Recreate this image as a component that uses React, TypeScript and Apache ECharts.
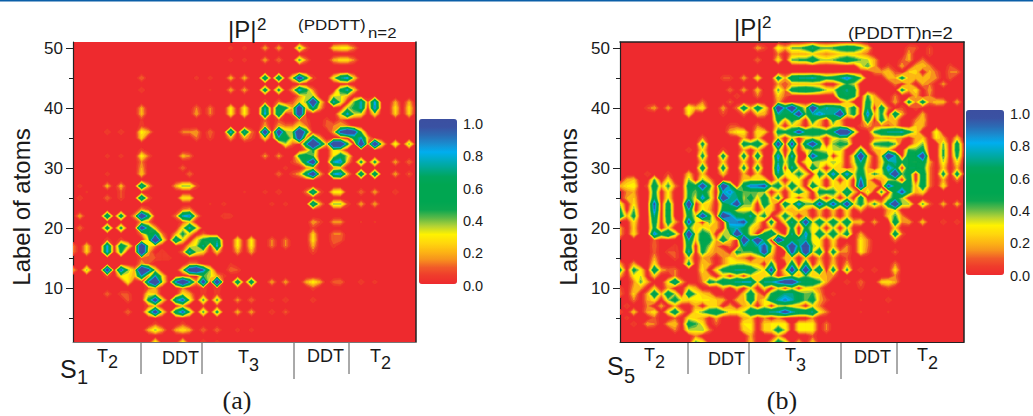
import React, { useEffect, useRef } from "react";
import * as echarts from "echarts";

// value rows: [y, x, v, x, v, ...]; every other atom pair is 0
const panelAUpper: number[][] = [
  [50, 24,.08,26,.08,29,.2,31,.2,34,.42,35,.12,39,.25,40,.3,41,.3,42,.15],
  [48, 24,.08,26,.08,29,.2,31,.15,34,.42,35,.15,39,.2,40,.28,41,.28,42,.15],
  [45, 11,.15,19,.08,21,.08,24,.22,26,.22,29,.55,31,.55,33,.3,34,.8,35,.45,36,.1,39,.3,40,.55,41,.62,42,.25],
  [43, 11,.1,21,.06,24,.2,26,.2,29,.5,31,.45,33,.2,34,.62,35,.45,36,.15,40,.45,41,.6,42,.25],
  [42, 34,.15,35,.35,36,.35,39,.3,40,.35,41,.2],
  [41, 29,.1,31,.15,33,.1,34,.25,35,.4,36,.92,37,.3,39,.6,40,.35,42,.4,43,.6,44,.1,45,.62,48,.2,50,.2],
  [40, 11,.2,19,.15,21,.15,24,.3,26,.3,29,.58,31,.55,32,.45,33,.2,34,.85,35,.2,36,.55,37,.2,41,.35,42,.45,43,.6,45,.65,48,.28,50,.28],
  [39, 11,.22,19,.2,21,.15,24,.3,26,.3,29,.62,31,.55,33,.12,34,.88,40,.3,41,.62,42,.35,43,.3,45,.3,48,.25,50,.25],
  [38, 11,.06,29,.12,31,.1,34,.14,35,.1,38,.1,40,.12],
  [37, 11,.08,29,.2,31,.2,32,.14,33,.15,34,.3,35,.15,38,.12,39,.15,40,.2,41,.15],
  [36, 6,.1,8,.1,11,.32,12,.2,17,.15,18,.15,19,.2,21,.15,24,.62,26,.58,27,.15,29,.85,31,.82,32,.4,33,.35,34,.97,35,.5,39,.2,40,.7,41,.9,42,.75,43,.4],
  [35, 11,.26,19,.14,21,.1,24,.2,26,.2,27,.1,29,.3,31,.55,32,.5,33,.3,34,.8,35,.1,36,.55,37,.2,42,.5,43,.6,44,.2],
  [34, 32,.35,33,.12,35,.55,36,.97,37,.6,38,.2,39,.92,40,.92,41,.45,43,.88,44,.1,45,.88,46,.3,48,.35,50,.4],
  [33, 11,.08,35,.15,36,.45,39,.3,40,.2],
  [32, 6,.08,8,.08,11,.32,12,.12,17,.22,18,.15,29,.18,31,.18,34,.45,35,.5,36,.4,39,.3,40,.5,41,.35],
  [31, 11,.15,33,.08,34,.2,35,.55,36,.82,39,.6,40,.65,41,.2,43,.45,45,.45,48,.2,50,.15],
  [30, 11,.2,17,.14,32,.08,35,.15,36,.2,39,.15,40,.2],
  [29, 6,.08,8,.05,11,.25,18,.15,31,.15,33,.1,34,.2,35,.5,36,.85,37,.2,39,.6,40,.65,41,.2,43,.55,45,.55,48,.2,50,.12],
  [27, 2,.08,6,.22,8,.22,11,.58,12,.2,16,.2,17,.38,18,.38,19,.1],
  [26, 3,.06,8,.1,26,.06,29,.08,31,.1,35,.15,36,.58,37,.12,39,.3,40,.32,43,.15,45,.2,48,.1],
  [25, 2,.1,6,.15,8,.1,11,.58,12,.12,17,.3,18,.28,22,.05],
  [24, 21,.06,23,.08,30,.08,32,.08,36,.58,37,.2,39,.38,40,.38,41,.1,43,.2,45,.2,48,.05,50,.05],
];
const panelALower: number[][] = [
  [23, 11,.2,12,.1,17,.15,18,.2],
  [22, 2,.2,6,.56,8,.5,10,.2,11,.88,12,.5,16,.15,17,.6,18,.65,19,.2,23,.1,24,.08],
  [21, 11,.2,12,.15,17,.1,18,.25,36,.2,37,.1,39,.18,40,.18,43,.06,45,.06],
  [20, 2,.15,6,.5,8,.45,11,.78,12,.5,13,.2,17,.3,18,.6,19,.35,36,.08],
  [19, 11,.15,12,.45,13,.55,14,.15,16,.2,17,.45,18,.25,20,.12,36,.25,39,.15,40,.15],
  [18, 6,.1,8,.1,12,.3,13,.92,14,.35,16,.58,17,.3,19,.3,20,.45,21,.55,22,.55,25,.3,27,.3,30,.15,32,.15,36,.28,39,.14,40,.12],
  [17, 1,.15,3,.25,6,.62,8,.52,9,.35,11,.92,12,.3,13,.15,18,.25,19,.35,20,.58,22,.62,25,.3,27,.3,30,.15,32,.15,36,.2,39,.08],
  [16, 1,.15,3,.25,6,.62,8,.45,11,.92,12,.2,14,.1,17,.15,18,.6,19,.35,20,.25,22,.25,25,.2,27,.2,36,.1],
  [15, 11,.12,12,.12,13,.1,14,.08,15,.08],
  [14, 3,.05,11,.2,12,.1,18,.15,19,.15,24,.06],
  [13, 1,.2,3,.38,6,.78,8,.68,9,.4,10,.2,11,.97,12,.7,13,.3,17,.3,18,.78,19,.92,20,.65,21,.35,24,.14,25,.1],
  [12, 6,.1,8,.3,9,.3,10,.2,11,.6,12,.1,13,.6,14,.3,20,.42,21,.35,22,.2,23,.08],
  [11, 9,.3,12,.62,13,.98,14,.35,16,.62,17,.92,18,.6,19,.2,20,.78,22,.88,25,.52,27,.52,30,.2,32,.2,35,.2,36,.32,37,.2,39,.12,40,.15,43,.1,45,.08],
  [10, 12,.1,13,.2,17,.15,20,.1,22,.1,25,.06,27,.06,36,.1],
  [9, 6,.14,8,.1,9,.1,12,.3,13,.25,17,.3,18,.2,20,.08,22,.08],
  [8, 9,.12,12,.45,13,.78,14,.3,16,.55,17,.68,18,.35,20,.42,22,.42,25,.18,27,.15,30,.08,32,.1,36,.1],
  [7, 12,.1,13,.2,17,.2,20,.06,22,.06],
  [6, 9,.15,12,.4,13,.78,14,.3,16,.5,17,.68,18,.4,20,.42,22,.45,25,.22,27,.2,30,.1,32,.12],
  [4, 13,.1,17,.1],
  [3, 12,.2,13,.38,14,.2,16,.2,17,.3,18,.2,20,.15,22,.15,25,.08,27,.08],
  [1, 13,.32,17,.3,20,.1,22,.08],
];
const panelBUpper: number[][] = [
  [50, 21,.2,22,.1,24,.35,25,.2,26,.4,27,.4,28,.5,29,.72,30,.45,31,.4,32,.45,33,.55,34,.62,35,.6,36,.45,37,.25,43,.12,44,.1,46,.1],
  [49, 24,.15,26,.2,27,.2,28,.2,29,.25,30,.2,31,.15,32,.2,33,.25,34,.25,35,.25,36,.2,37,.12,43,.2,46,.1],
  [48, 21,.15,24,.3,26,.4,27,.45,28,.45,29,.66,30,.4,31,.35,32,.4,33,.5,34,.62,35,.5,36,.4,37,.35,38,.2,42,.1,43,.2,45,.15],
  [47, 36,.3,37,.45,38,.2,40,.1,42,.2,44,.2,45,.25,46,.15,49,.1],
  [46, 38,.15,39,.18,40,.25,41,.1,43,.25,44,.28,46,.22,47,.12,49,.15,50,.15],
  [45, 16,.1,17,.1,19,.2,21,.3,24,.56,25,.2,26,.66,27,.7,28,.7,29,.76,30,.65,31,.5,32,.55,33,.7,34,.82,35,.65,36,.4,40,.2,41,.2,42,.52,43,.2,44,.2,45,.2,46,.2,47,.15,49,.12],
  [44, 24,.18,25,.1,26,.2,27,.2,28,.2,29,.2,30,.18,33,.2,34,.45,35,.35,41,.15,43,.2,45,.2,46,.14,48,.18],
  [43, 17,.15,19,.2,21,.25,24,.42,25,.15,26,.55,27,.62,28,.66,29,.6,30,.5,31,.35,32,.3,33,.62,34,.72,35,.55,42,.5,43,.2,44,.28,46,.2],
  [42, 18,.1,21,.14,24,.26,25,.12,33,.56,34,.66,35,.5,37,.45,38,.2,41,.15,44,.22,46,.15],
  [41, 13,.15,17,.12,24,.2,34,.25,37,.58,38,.2,39,.2,41,.2,43,.52,44,.15,45,.56,46,.15,47,.25,48,.22,50,.2],
  [40, 5,.1,6,.2,8,.2,11,.35,12,.2,13,.3,16,.2,18,.15,19,.62,20,.2,21,.62,22,.3,24,.96,25,.7,26,.96,27,.55,28,.3,29,.96,30,.6,31,.76,32,.72,33,.62,34,.3,35,.55,37,.66,39,.6,40,.15,42,.1,44,.1],
  [39, 11,.3,16,.1,19,.15,21,.25,22,.2,24,.72,25,.66,26,.62,27,.92,28,.4,29,.72,30,.82,31,.72,32,.7,33,.97,34,.3,35,.52,37,.82,38,.2,39,.48,41,.66,42,.2,45,.2],
  [38, 24,.56,25,.2,26,.52,27,.3,29,.56,30,.25,32,.52,33,.2,37,.62,39,.56,40,.2,41,.25,44,.15,45,.25],
  [37, 17,.1,18,.1,21,.15,24,.3,26,.3,27,.2,29,.3,30,.2,32,.3,33,.25,36,.1,37,.2,38,.1,39,.15,40,.12,41,.2,44,.25,45,.2],
  [36, 17,.2,18,.3,19,.3,21,.3,22,.25,24,.52,25,.5,26,.62,27,.88,28,.62,29,.62,30,.62,31,.52,32,.66,33,.97,34,.97,35,.4,38,.45,39,.62,40,.72,41,.72,42,.76,43,.5,44,.3,47,.35],
  [35, 13,.15,19,.2,21,.25,24,.3,26,.3,28,.25,29,.3,30,.25,32,.3,33,.35,34,.3,38,.15,39,.2,40,.15,41,.2,42,.15,44,.2,45,.25,47,.3,48,.2,50,.25],
  [34, 13,.52,19,.56,20,.45,21,.62,22,.3,24,.92,26,.88,28,.66,29,.92,30,.56,32,.4,33,.5,34,.45,38,.45,39,.5,40,.55,41,.4,44,.25,45,.4,48,.4,50,.56],
  [33, 11,.1,13,.3,16,.1,19,.2,21,.25,24,.42,26,.4,28,.3,29,.4,30,.35,31,.3,32,.35,33,.35,36,.5,38,.2,39,.25,40,.25,43,.45,44,.42,45,.55,48,.45,50,.58],
  [32, 13,.52,16,.56,19,.56,21,.62,24,.82,26,.78,29,.88,30,.6,31,.52,33,.3,35,.32,36,.96,37,.3,39,.3,40,.96,41,.76,43,.62,44,.62,45,.92,48,.45,50,.5],
  [31, 13,.25,16,.25,19,.25,21,.25,24,.72,25,.3,26,.56,28,.3,29,.35,30,.35,31,.3,32,.38,33,.3,35,.3,36,.72,37,.25,39,.25,40,.62,41,.76,42,.45,43,.5,44,.45,45,.62,46,.2,48,.35,50,.3],
  [30, 13,.62,16,.56,19,.52,21,.56,24,.82,26,.76,27,.3,29,.62,30,.3,32,.3,33,.25,35,.2,36,.56,37,.2,39,.3,40,.82,41,.66,43,.66,44,.66,45,.52,46,.15,48,.25,50,.2],
  [29, 5,.1,8,.1,11,.25,13,.25,16,.25,19,.2,21,.25,24,.72,25,.3,26,.3,27,.52,28,.3,30,.56,31,.3,32,.82,33,.3,34,.82,35,.3,36,.62,37,.25,38,.46,39,.3,40,.62,41,.97,42,.4,43,.56,45,.62,46,.15,48,.52,50,.56],
  [28, 2,.2,3,.25,6,.45,8,.3,11,.4,13,.4,14,.2,19,.25,20,.3,21,.3,22,.3,24,.3,26,.3,27,.3,29,.3,30,.3,32,.35,34,.35,36,.82,37,.25,39,.2,40,.3,41,.4,43,.62,45,.62,46,.15,48,.2,50,.15],
  [27, 1,.2,2,.3,3,.35,5,.1,6,.62,7,.2,8,.46,9,.15,11,.56,12,.5,13,.92,14,.5,16,.97,17,.62,19,.62,20,.82,21,.82,22,.86,23,.4,24,.56,25,.2,26,.62,27,.3,29,.62,30,.3,32,.3,33,.25,34,.3,36,.92,37,.2,38,.25,40,.86,41,.62,42,.62,43,.56,44,.2,45,.62,46,.15,48,.3],
  [26, 2,.15,3,.2,6,.55,8,.3,11,.5,12,.4,13,.6,14,.35,16,.75,17,.82,18,.62,19,.4,20,.4,21,.4,22,.35,24,.25,26,.3,27,.56,28,.3,30,.52,31,.52,32,.5,33,.25,34,.72,35,.25,37,.36,39,.46,41,.62,42,.86,43,.52,44,.2,45,.3],
  [25, 2,.2,3,.25,6,.62,8,.32,11,.52,12,.3,13,.82,14,.4,16,.97,17,.72,18,.72,19,.35,20,.56,21,.25,22,.62,23,.2,24,.52,26,.3,28,.25,30,.3,32,.3,34,.3,36,.62,40,.3,41,.55,42,.35],
];
const panelBLower: number[][] = [
  [24, 1,.35,3,.3,6,.85,8,.6,11,.97,13,.3,14,.25,16,.45,17,.72,18,.92,19,.4,20,.4,22,.62,23,.3,25,.62,26,.3,27,.82,28,.4,29,.4,30,.86,31,.5,32,.86,33,.45,34,.92,35,.3,36,.52,37,.2,38,.46,39,.2,40,.62,41,.98,42,.4,43,.36,45,.42,46,.12,48,.22,50,.22],
  [23, 1,.5,3,.42,6,.82,8,.62,11,.72,13,.35,14,.2,16,.55,17,.6,18,.3,19,.3,20,.3,22,.3,23,.25,25,.25,26,.2,27,.3,28,.2,30,.25,32,.25,34,.3,36,.2,40,.2,41,.3],
  [22, 1,.62,2,.2,3,.52,6,.72,8,.62,11,.56,12,.3,13,.92,14,.5,16,.97,17,.82,18,.62,19,.52,20,.76,21,.3,22,.52,24,.2,25,.56,26,.3,28,.25,30,.2,32,.2,34,.25,40,.25,41,.45,42,.15],
  [21, 3,.3,6,.62,8,.56,9,.2,11,.86,12,.3,14,.42,15,.2,17,.82,18,.82,19,.86,20,.5,21,.3,23,.56,25,.3,26,.72,27,.3,28,.92,29,.3,30,.62,31,.3,32,.62,33,.3,34,.66,35,.2,36,.25,38,.2,41,.66,42,.15,43,.2,45,.25,48,.1,50,.1],
  [20, 1,.2,3,.25,6,.52,8,.3,11,.46,12,.25,13,.35,14,.25,15,.2,17,.72,18,.76,19,.62,20,.3,21,.2,23,.25,26,.52,28,.52,29,.3,30,.35,32,.35,34,.35,41,.25],
  [19, 1,.2,3,.3,6,.82,7,.52,8,.72,9,.4,11,.97,12,.25,13,.56,14,.42,16,.36,17,.4,18,.97,19,.62,20,.3,22,.52,23,.72,24,.25,26,.72,28,.82,29,.25,30,.66,31,.3,32,.62,33,.25,34,.56,36,.2,41,.62,42,.12],
  [18, 1,.05,6,.12,11,.72,12,.2,13,.62,14,.52,15,.2,16,.62,17,.25,19,.97,20,.62,21,.97,22,.56,24,.97,25,.62,26,.62,27,.72,28,.72,29,.3,30,.3,32,.3,36,.3,37,.15,41,.15],
  [17, 6,.14,9,.08,11,.62,13,.56,14,.36,15,.15,17,.15,19,.72,20,.66,21,.72,22,.86,23,.4,25,.62,26,.92,27,.62,28,.97,29,.4,30,.3,32,.25,34,.15,36,.3,37,.15],
  [16, 6,.12,8,.1,9,.1,11,.76,13,.52,14,.25,15,.15,16,.2,18,.52,19,.4,20,.4,21,.52,22,.92,23,.3,26,.88,27,.3,28,.97,29,.3,30,.62,32,.56,33,.15,34,.15,36,.3,37,.12,41,.12],
  [15, 6,.2,9,.1,11,.3,13,.2,14,.15,16,.15,17,.3,18,.2,19,.15,21,.2,22,.25,23,.2,25,.2,26,.25,28,.25,30,.2,32,.2,34,.1],
  [14, 1,.2,3,.2,6,.3,11,.52,13,.25,14,.2,16,.15,17,.3,18,.35,19,.35,20,.25,21,.25,23,.52,26,.62,28,.62,30,.3,32,.25,34,.2,41,.15],
  [13, 1,.52,3,.52,4,.3,6,.66,7,.2,8,.12,9,.15,13,.3,15,.28,16,.52,17,.66,18,.72,19,.72,20,.66,21,.4,22,.3,23,.88,25,.3,26,.92,27,.3,28,.97,29,.3,30,.72,32,.56,34,.46,36,.1,38,.1,41,.28],
  [12, 1,.2,3,.3,4,.35,6,.25,9,.15,13,.2,14,.2,16,.25,18,.25,20,.3,21,.25,22,.25,23,.36,25,.2,26,.36,27,.2,28,.42,29,.25,30,.25,31,.2,32,.15,41,.15],
  [11, 3,.15,4,.42,5,.2,8,.3,9,.72,10,.2,13,.15,14,.52,15,.42,16,.62,17,.66,18,.72,19,.76,20,.76,21,.3,22,.72,23,.72,24,.82,25,.92,26,.92,27,.72,28,.66,29,.66,30,.46,31,.2,34,.1,36,.15,39,.25,40,.3,41,.2],
  [10, 1,.1,3,.2,4,.2,6,.25,8,.2,11,.3,12,.2,16,.2,18,.25,20,.3,22,.3,24,.3,26,.3,28,.3,29,.25,30,.15,36,.08,40,.08],
  [9, 1,.15,3,.26,5,.2,6,.66,7,.2,8,.62,9,.35,11,.66,12,.36,13,.25,14,.2,19,.25,20,.62,21,.2,23,.46,24,.62,25,.72,26,.72,27,.56,28,.4,29,.46,30,.2,32,.08],
  [8, 3,.15,5,.2,6,.3,8,.36,9,.56,10,.3,11,.25,12,.3,13,.3,14,.3,15,.25,16,.2,18,.2,19,.2,20,.66,21,.15,22,.3,23,.56,24,.76,25,.82,26,.76,27,.56,28,.4,29,.56,30,.2,31,.1,36,.06,40,.1],
  [7, 2,.1,5,.15,7,.2,9,.2,12,.2,14,.25,15,.25,17,.2,19,.2,20,.3,22,.3,24,.3,25,.3,26,.25,27,.2,29,.3,30,.15],
  [6, 1,.1,3,.25,5,.2,6,.3,8,.3,9,.62,10,.2,12,.3,13,.4,14,.56,15,.62,16,.46,17,.3,18,.3,19,.36,20,.66,21,.62,22,.66,23,.72,24,.76,25,.88,26,.76,27,.62,28,.62,29,.72,30,.3,31,.15,36,.06,40,.06],
  [5, 2,.08,6,.12,9,.12,11,.3,12,.25,13,.2,15,.2,19,.2,20,.25,22,.15,24,.15,29,.15],
  [4, 3,.1,5,.2,6,.15,8,.2,9,.25,11,.56,12,.45,13,.3,15,.12,19,.3,20,.3,22,.25,23,.3,24,.3,25,.3,27,.3,28,.3,29,.3,31,.15],
  [3, 9,.15,11,.35,12,.35,13,.4,14,.15,19,.25,20,.3,22,.25,23,.3,24,.56,25,.35,27,.3,28,.3,29,.3,31,.15],
  [2, 12,.15,20,.2,24,.2,29,.1],
  [1, 12,.42,13,.3,20,.25,23,.2,24,.56,25,.35,27,.2,29,.25],
];

const contourLevels = [.05,.1,.15,.2,.25,.3,.35,.4,.45,.5,.55,.6,.65,.7,.75,.8,.85,.9,.95];
const colorRamp = ["#ee2a2e","#ef3b2c","#f15a29","#f7941d","#fdb813","#ffd80d","#fff200","#b5d334","#5cb947","#0ca750","#00a651","#00a651","#00a651","#00a65d","#00a88f","#00abc0","#00aeef","#1a8ccf","#2b6bb5","#3a52a3","#3b4fa0"];
const yMajorTicks = [10, 20, 30, 40, 50];
const yMinorTicks = [5, 15, 25, 35, 45];
const colorbarLabels = ["1.0", "0.8", "0.6", "0.4", "0.2", "0.0"];
const yAxisTitle = "Label of atoms";
const segmentLabels = ["DDT", "DDT"];

function buildSquares(rows: number[][], knee: number, gain: number) {
  // the published contours saturate: strong readings are drawn with a steeper flank
  const saturate = (v: number) => (v < knee ? v : v + (v - knee) * gain);
  const grid = new Map<string, number>();
  for (const row of rows) {
    for (let i = 1; i < row.length; i += 2) grid.set(row[i] + "," + row[0], saturate(row[i + 1]));
  }
  const at = (x: number, y: number) => grid.get(x + "," + y) || 0;
  const out: number[][] = [];
  for (let y = 1; y <= 50; y++) {
    for (let x = 1; x <= 50; x++) {
      const c = [at(x, y), at(x + 1, y), at(x + 1, y + 1), at(x, y + 1)];
      const top = Math.max(...c);
      if (top >= contourLevels[0]) out.push([x, y, Math.min(top, 1), ...c]);
    }
  }
  return out;
}

const contourItem = (_p: any, api: any) => {
  const x = api.value(0), y = api.value(1);
  const v = [api.value(3), api.value(4), api.value(5), api.value(6)];
  const corners = [[x, y], [x + 1, y], [x + 1, y + 1], [x, y + 1]];
  const children: any[] = [];
  const cross = (i: number, j: number, level: number) => {
    const t = (level - v[i]) / (v[j] - v[i]);
    return [corners[i][0] + t * (corners[j][0] - corners[i][0]), corners[i][1] + t * (corners[j][1] - corners[i][1])];
  };
  contourLevels.forEach((level, idx) => {
    const hi = v.map((a) => a >= level);
    const polys: number[][][] = [];
    if (hi[0] === hi[2] && hi[1] === hi[3] && hi[0] !== hi[1]) {
      // saddle: the two high corners stay apart, as the red crossings in the picture do
      for (let i = 0; i < 4; i++) {
        if (hi[i]) polys.push([corners[i], cross(i, (i + 1) % 4, level), cross(i, (i + 3) % 4, level)]);
      }
    } else {
      const pts: number[][] = [];
      for (let i = 0; i < 4; i++) {
        const j = (i + 1) % 4;
        if (hi[i]) pts.push(corners[i]);
        if (hi[i] !== hi[j]) pts.push(cross(i, j, level));
      }
      if (pts.length >= 3) polys.push(pts);
    }
    const fill = colorRamp[idx + 1];
    for (const pts of polys) {
      children.push({ type: "polygon", z2: idx + 1, silent: true, shape: { points: pts.map((p) => api.coord(p)) }, style: { fill, stroke: fill, lineWidth: 0.6 } });
    }
  });
  return { type: "group", children };
};

type Panel = {
  rows: number[][]; left: number; width: number; barLeft: number; barTop: number; labelTop: number;
  topLine: boolean; num: string; caption: string; knee: number; gain: number;
};
const panels: Panel[] = [
  { rows: [...panelAUpper, ...panelALower], left: 73, width: 343, barLeft: 419, barTop: 119, labelTop: 124, topLine: false, num: "1", caption: "(a)", knee: 0.4, gain: 0.9 },
  { rows: [...panelBUpper, ...panelBLower], left: 620, width: 344, barLeft: 966, barTop: 110, labelTop: 114, topLine: true, num: "5", caption: "(b)", knee: 0.78, gain: 1.6 },
];

const FONT = "Liberation Sans";
const txt = (text: string, x: number, y: number, size: number, extra: any = {}) => ({
  type: "text", x, y, silent: true,
  style: { text, fontSize: size, fontFamily: FONT, fill: "#1a1a1a", textAlign: "left", textVerticalAlign: "middle" },
  ...(extra.scaleX !== undefined ? { scaleX: extra.scaleX } : {}),
});
const rule = (x: number, y2: number) => ({
  type: "line", silent: true, shape: { x1: x, y1: 342, x2: x, y2 }, style: { stroke: "#555", lineWidth: 1 },
});

function buildGraphics() {
  const g: any[] = [{ type: "rect", silent: true, shape: { x: 0, y: 0, width: 1033, height: 1.5 }, style: { fill: "#0b5fa8" } }];
  // panel (a)
  g.push(txt("|P|", 228, 29, 24), txt("2", 257, 24, 17));
  g.push(txt("(PDDTT)", 298, 25, 15, { scaleX: 1.13 }), txt("n=2", 368, 33, 14, { scaleX: 1.2 }));
  g.push(txt("T", 97, 356, 18), txt("2", 108, 362, 18));
  g.push(txt(segmentLabels[0], 162, 358, 18), txt("T", 238, 357, 18), txt("3", 249, 365, 18));
  g.push(txt(segmentLabels[1], 307, 356, 18), txt("T", 370, 356, 18), txt("2", 381, 363, 18));
  g.push(txt("S", 60, 369, 25), txt(panels[0].num, 77, 377, 20));
  g.push(rule(141, 374), rule(202, 374), rule(294, 379), rule(349, 374));
  // panel (b)
  g.push(txt("|P|", 734, 27, 24), txt("2", 762, 22, 17));
  g.push(txt("(PDDTT)n=2", 848, 33, 16, { scaleX: 1.15 }));
  g.push(txt("T", 644, 355, 18), txt("2", 655, 362, 18));
  g.push(txt(segmentLabels[0], 708, 359, 18), txt("T", 785, 355, 18), txt("3", 796, 365, 18));
  g.push(txt(segmentLabels[1], 854, 357, 18), txt("T", 917, 355, 18), txt("2", 928, 363, 18));
  g.push(txt("S", 607, 366, 25), txt(panels[1].num, 624, 376, 20));
  g.push(rule(688, 374), rule(749, 374), rule(841, 379), rule(897, 374));
  panels.forEach((p, k) => {
    colorbarLabels.forEach((s, i) => g.push(txt(s, p.barLeft + 44, p.labelTop + i * 32.3, 14.5)));
    g.push({
      type: "text", silent: true, x: k === 0 ? 21 : 568, y: 207, rotation: Math.PI / 2,
      style: { text: yAxisTitle, fontSize: 24, fontFamily: FONT, fill: "#1a1a1a", textAlign: "center", textVerticalAlign: "middle" },
    });
    g.push({
      type: "text", silent: true, x: k === 0 ? 237 : 782, y: 400,
      style: { text: p.caption, fontSize: 26, fontFamily: "Liberation Serif", fill: "#1a1a1a", textAlign: "center", textVerticalAlign: "middle" },
    });
  });
  return g;
}

function buildOption() {
  const grid: any[] = [], xAxis: any[] = [], yAxis: any[] = [], series: any[] = [], visualMap: any[] = [];
  const line = { show: true, lineStyle: { color: "#222", width: 1.2 } };
  panels.forEach((p, k) => {
    grid.push({ left: p.left, width: p.width, top: 42, height: 300, show: true, backgroundColor: colorRamp[0], borderWidth: 0 });
    const base = { type: "value", min: 1, max: 51, gridIndex: k, splitLine: { show: false } };
    const xBase = xAxis.length, yBase = yAxis.length;
    xAxis.push({ ...base, position: "bottom", axisLine: { ...line, onZero: false, lineStyle: { color: k ? "#222" : "#777", width: 1 } }, axisTick: { show: false }, axisLabel: { show: false } });
    xAxis.push({ ...base, position: "top", axisLine: { show: p.topLine, onZero: false, lineStyle: { color: "#222", width: 1.5 } }, axisTick: { show: false }, axisLabel: { show: false } });
    yAxis.push({
      ...base, position: "left", axisLine: { ...line, onZero: false },
      axisTick: { show: true, length: 7, lineStyle: { color: "#222", width: 1 }, customValues: yMajorTicks },
      axisLabel: { show: true, customValues: yMajorTicks, fontSize: 17, fontFamily: FONT, color: "#1a1a1a", margin: 10 },
    });
    yAxis.push({
      ...base, position: "left", axisLine: { show: false, onZero: false },
      axisTick: { show: true, length: 4, lineStyle: { color: "#222", width: 1 }, customValues: yMinorTicks },
      axisLabel: { show: false },
    });
    yAxis.push({ ...base, position: "right", axisLine: { ...line, onZero: false, lineStyle: { color: "#222", width: 1.5 } }, axisTick: { show: false }, axisLabel: { show: false } });
    series.push({
      type: "custom", coordinateSystem: "cartesian2d", xAxisIndex: xBase, yAxisIndex: yBase, clip: true, silent: true,
      renderItem: contourItem, encode: { x: 0, y: 1 }, data: buildSquares(p.rows, p.knee, p.gain), z: 1,
    });
    visualMap.push({
      type: "continuous", seriesIndex: k, dimension: 2, min: 0, max: 1, left: p.barLeft, top: p.barTop,
      itemWidth: 38, itemHeight: 165, calculable: false, hoverLink: false, showLabel: false, padding: 0,
      inRange: { color: colorRamp }, borderWidth: 0,
    });
  });
  return { animation: false, backgroundColor: "#fff", grid, xAxis, yAxis, series, visualMap, graphic: buildGraphics() };
}

export default function App() {
  const ref = useRef<HTMLDivElement>(null);
  useEffect(() => {
    document.body.style.margin = "0";
    const chart = echarts.init(ref.current!, undefined, { renderer: "svg" });
    chart.setOption(buildOption() as any);
    return () => chart.dispose();
  }, []);
  return <div ref={ref} style={{ width: 1033, height: 416 }} />;
}
